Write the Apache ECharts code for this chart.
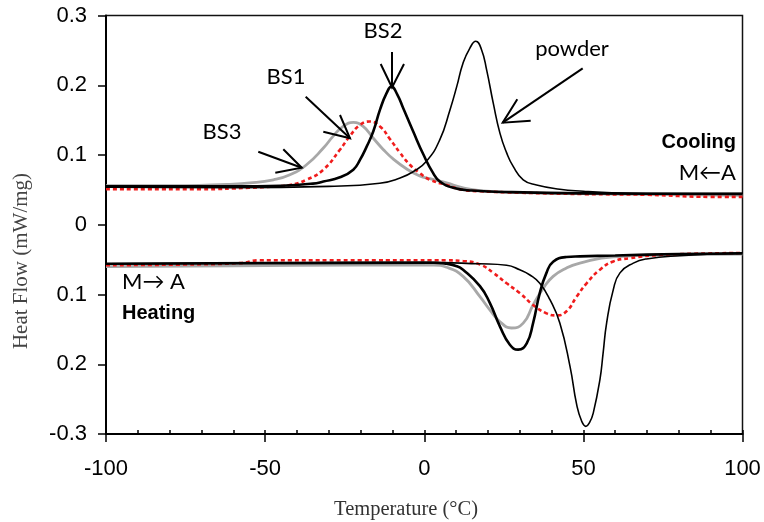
<!DOCTYPE html>
<html>
<head>
<meta charset="utf-8">
<script src="https://cdn.jsdelivr.net/npm/echarts@6/dist/echarts.min.js"></script>
<style>
html,body{margin:0;padding:0;background:#fff;}
#chart{width:764px;height:522px;}
</style>
</head>
<body>
<div id="chart"></div>
<script>
// ---- Data (Temperature °C, Heat Flow mW/mg) ----
var xTicks = [-100, -50, 0, 50, 100];
var yTickLabels = ["-0.3", "0.2", "0.1", "0", "0.1", "0.2", "0.3"];

// Cooling curves
var coolPowder = [[-100,0.054],[-60,0.053],[-30,0.055],[-14,0.0595],[-7.6,0.067],[-3.5,0.076],[0.7,0.091],[4.9,0.122],[8.1,0.165],[10.2,0.198],[12.2,0.232],[14.3,0.253],[16.2,0.263],[18,0.251],[19.6,0.222],[21.7,0.174],[23.8,0.131],[25.9,0.103],[27.9,0.084],[31.1,0.0645],[35.3,0.057],[42.6,0.051],[50,0.048],[57.3,0.046],[70,0.0445],[100,0.045]];
var coolBS2 = [[-100,0.055],[-60,0.055],[-45,0.056],[-35,0.059],[-31.7,0.062],[-26.5,0.068],[-22.3,0.079],[-20.2,0.093],[-18.1,0.112],[-16,0.134],[-13.9,0.165],[-11.8,0.189],[-10.3,0.198],[-8.5,0.187],[-6.6,0.167],[-3.5,0.134],[-0.3,0.101],[2.8,0.074],[4.9,0.062],[9.1,0.053],[15,0.049],[25,0.047],[50,0.045],[100,0.044]];
var coolBS1 = [[-100,0.051],[-70,0.051],[-55,0.053],[-47,0.055],[-42.2,0.057],[-37,0.0645],[-31.7,0.079],[-26.5,0.1075],[-23.4,0.127],[-20.2,0.143],[-17.1,0.148],[-13.9,0.141],[-10.8,0.123],[-7.6,0.103],[-4.5,0.086],[-1.4,0.074],[1.8,0.0645],[7,0.057],[12.2,0.05],[17.5,0.048],[30,0.046],[50,0.044],[70,0.043],[90,0.04],[100,0.04]];
var coolBS3 = [[-100,0.056],[-75,0.056],[-62,0.058],[-54.8,0.06],[-47.4,0.0645],[-42.2,0.0717],[-37,0.086],[-31.7,0.11],[-28.6,0.127],[-25.5,0.141],[-22.3,0.1467],[-19.2,0.141],[-16,0.124],[-12.9,0.108],[-9.7,0.094],[-5.5,0.08],[-1.4,0.07],[1.8,0.066],[7,0.06],[12.2,0.053],[17.5,0.049],[30,0.046],[60,0.044],[100,0.042]];

// Heating curves
var heatPowder = [[-100,-0.056],[-50,-0.055],[0,-0.054],[17.5,-0.056],[25.9,-0.058],[30,-0.0645],[33.2,-0.072],[36.3,-0.084],[39.5,-0.1075],[42.6,-0.141],[45.8,-0.203],[47.9,-0.258],[49.5,-0.282],[50.8,-0.289],[52,-0.283],[53.1,-0.27],[55.2,-0.222],[56.2,-0.184],[57.3,-0.141],[59.4,-0.093],[61.5,-0.069],[65.7,-0.055],[69.8,-0.049],[80.3,-0.0445],[100,-0.0406]];
var heatBS2 = [[-100,-0.056],[-50,-0.055],[3,-0.0545],[7,-0.056],[10,-0.059],[12.2,-0.0645],[17.5,-0.088],[20.6,-0.112],[23.8,-0.146],[26.9,-0.172],[29.5,-0.179],[32.2,-0.17],[34.2,-0.141],[36.3,-0.098],[38.4,-0.069],[40.5,-0.053],[44.7,-0.0463],[48.9,-0.0454],[60,-0.044],[80,-0.042],[100,-0.041]];
var heatBS1 = [[-100,-0.058],[-75,-0.057],[-58,-0.055],[-52,-0.051],[-20,-0.051],[7,-0.051],[12.2,-0.052],[17.5,-0.057],[21.7,-0.069],[25.9,-0.084],[30,-0.098],[34.2,-0.115],[38.4,-0.127],[41.6,-0.13],[44.7,-0.124],[47.9,-0.103],[51,-0.084],[55.2,-0.0645],[59.4,-0.0526],[64.6,-0.048],[75,-0.043],[100,-0.0406]];
var heatBS3 = [[-100,-0.06],[-60,-0.059],[-20,-0.058],[3,-0.058],[7,-0.061],[12.2,-0.074],[17.5,-0.103],[20.6,-0.122],[23.8,-0.139],[27.4,-0.148],[31.1,-0.141],[34.2,-0.115],[37.4,-0.091],[40.5,-0.074],[44.7,-0.062],[48.9,-0.055],[59.4,-0.046],[80,-0.043],[100,-0.042]];

// ---- Styles ----
var sPowder = {color:'#000', width:1.6, type:'solid'};
var sBS2 = {color:'#000', width:2.6, type:'solid'};
var sBS1 = {color:'#f01c1c', width:2.6, type:[4,3]};
var sBS3 = {color:'#a8a8a8', width:2.8, type:'solid'};

function mk(name, data, ls, z){
  return {name:name, type:'line', data:data, xAxisIndex:0, yAxisIndex:0,
    showSymbol:false, symbol:'none', smooth:0.5,
    lineStyle:ls, z:z, silent:true, animation:false};
}

var chart = echarts.init(document.getElementById('chart'), null, {renderer:'canvas'});

var annFont = 'Lato, "Open Sans", sans-serif';
function txt(s, x, y, align, bold, size){
  return {type:'text', x:x, y:y, z:100, style:{text:s, fill:'#000', align:align, verticalAlign:'middle',
    font:(bold?'bold ':'') + size + 'px ' + (bold?'"Liberation Sans", Arial, sans-serif':annFont)}};
}
function arrow(x1,y1,x2,y2,hx1,hy1,hx2,hy2){
  return [
    {type:'line', z:100, shape:{x1:x1,y1:y1,x2:x2,y2:y2}, style:{stroke:'#000', lineWidth:2}},
    {type:'polyline', z:100, shape:{points:[[hx1,hy1],[x2,y2],[hx2,hy2]]}, style:{stroke:'#000', lineWidth:2, fill:null}}
  ];
}

var graphics = [
  txt('BS2', 383, 31, 'center', false, 22),
  txt('BS1', 286, 77, 'center', false, 22),
  txt('BS3', 222, 132, 'center', false, 22),
  txt('powder', 572, 49, 'center', false, 22),
  txt('Cooling', 736, 142, 'right', true, 20),
  txt('M\u2190A', 736, 173, 'right', false, 22),
  txt('M\u2192 A', 122, 282, 'left', false, 22),
  txt('Heating', 122, 313, 'left', true, 20),
  {type:'text', x:21, y:261, rotation:Math.PI/2, z:100,
    style:{text:'Heat Flow (mW/mg)', fill:'#444', align:'center', verticalAlign:'middle',
      font:'21px "Liberation Serif", "Times New Roman", serif'}},
  {type:'text', x:406, y:510, z:100,
    style:{text:'Temperature (\u00B0C)', fill:'#333', align:'center', verticalAlign:'middle',
      font:'20.5px "Liberation Serif", "Times New Roman", serif'}}
];
graphics = graphics.concat(
  arrow(392,52,392,87.5, 380.7,64, 404,64),
  arrow(305.7,96.7,350,138.3, 340,115, 323.3,131.7),
  arrow(258.3,151.7,301.7,167.7, 283.3,149.3, 275.3,172.7),
  arrow(582.7,68.3,502.7,122.7, 517.3,99.3, 530.7,120.7)
);

var option = {
  animation:false,
  backgroundColor:'#fff',
  grid:{left:106, right:21.5, top:15.5, bottom:88, show:true, borderColor:'#111', borderWidth:1.5, backgroundColor:'transparent'},
  xAxis:[
    {type:'value', min:-100, max:100, interval:50,
     axisLine:{show:true, onZero:false, lineStyle:{color:'#000', width:2}},
     axisTick:{show:true, inside:false, length:8, lineStyle:{color:'#000', width:1.5}},
     axisLabel:{margin:24, color:'#000', fontSize:22, fontFamily:'"Liberation Sans", Arial, sans-serif',
       formatter:function(v){ return xTicks.indexOf(v) >= 0 ? String(v) : ''; }},
     splitLine:{show:false}},
    {type:'value', min:-100, max:100, interval:10, position:'bottom',
     axisLine:{show:false, onZero:false},
     axisTick:{show:true, inside:true, length:4, lineStyle:{color:'#000', width:1.5}},
     axisLabel:{show:false}, splitLine:{show:false}}
  ],
  yAxis:[
    {type:'value', min:-0.3, max:0.3, interval:0.1,
     axisLine:{show:true, onZero:false, lineStyle:{color:'#000', width:2}},
     axisTick:{show:true, inside:false, length:8, lineStyle:{color:'#000', width:1.5}},
     axisLabel:{margin:19, color:'#000', fontSize:22, fontFamily:'"Liberation Sans", Arial, sans-serif',
       formatter:function(v, i){ return yTickLabels[i]; }},
     splitLine:{show:false}}
  ],
  series:[
    mk('powder cooling', coolPowder, sPowder, 5),
    mk('BS2 cooling', coolBS2, sBS2, 6),
    mk('BS3 cooling', coolBS3, sBS3, 3),
    mk('BS1 cooling', coolBS1, sBS1, 4),
    mk('powder heating', heatPowder, sPowder, 5),
    mk('BS2 heating', heatBS2, sBS2, 6),
    mk('BS3 heating', heatBS3, sBS3, 3),
    mk('BS1 heating', heatBS1, sBS1, 4)
  ],
  graphic:graphics
};
chart.setOption(option);
</script>
</body>
</html>
